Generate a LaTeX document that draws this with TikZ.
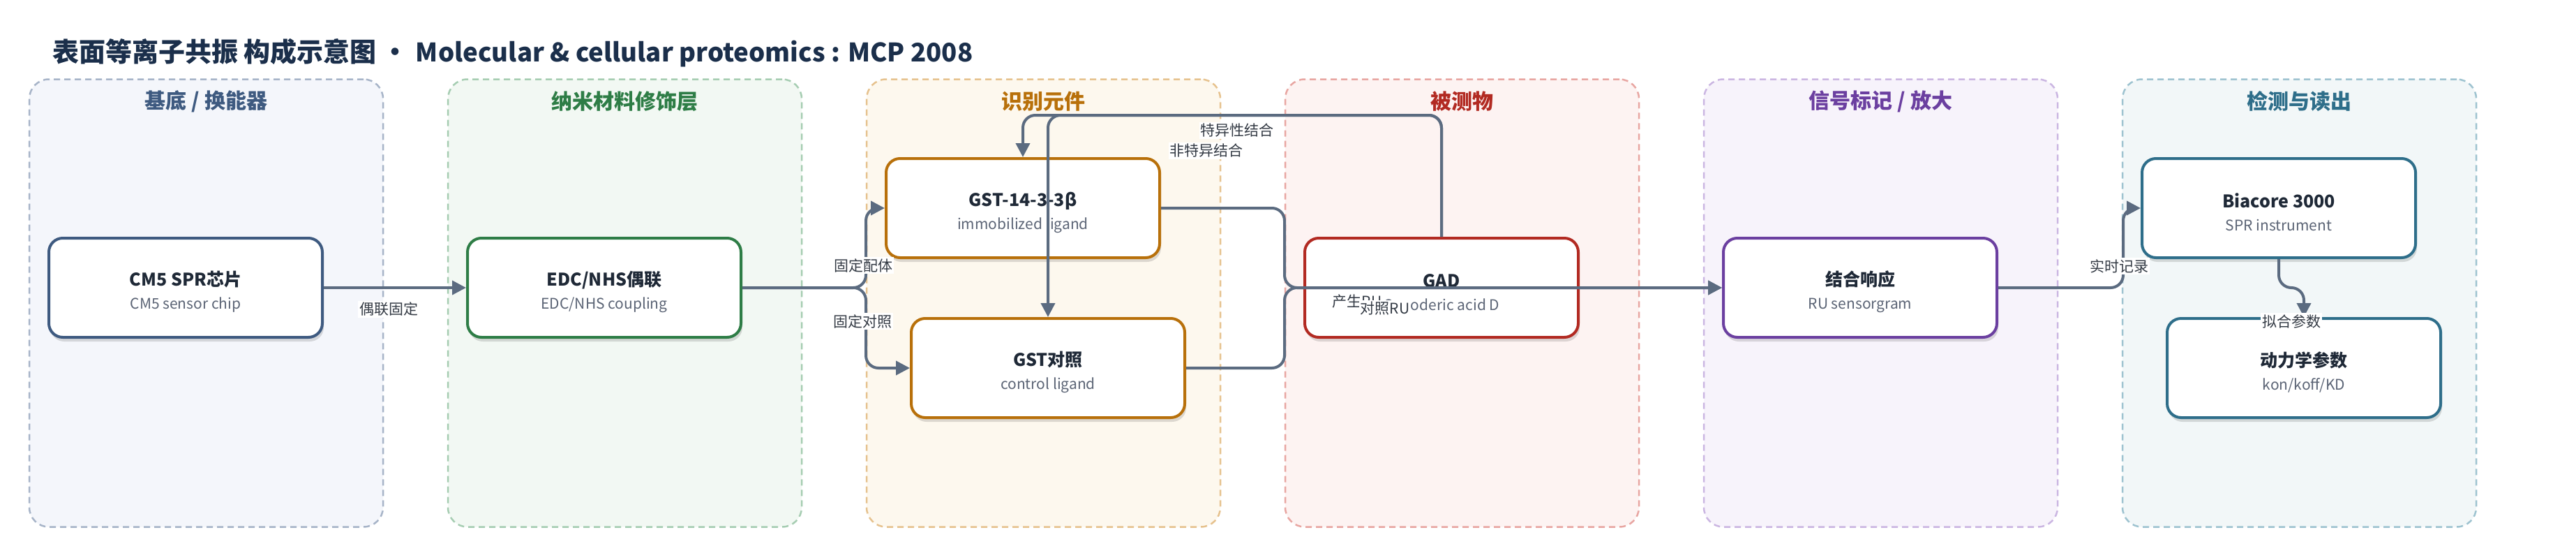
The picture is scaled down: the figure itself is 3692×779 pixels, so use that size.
\documentclass[tikz,border=0pt]{standalone}
\usepackage{fontspec}
\setmainfont{Noto Sans CJK SC}
\usetikzlibrary{arrows.meta,shadows}
\definecolor{edgec}{HTML}{5B6B80}
\definecolor{titlec}{HTML}{1B2F4B}
\definecolor{ntc}{HTML}{1F2937}
\definecolor{subc}{HTML}{5B6475}
\definecolor{labc}{HTML}{333A44}
\definecolor{c1}{HTML}{3E5A80}\definecolor{f1}{HTML}{F4F6FB}\definecolor{d1}{HTML}{A7B4C8}
\definecolor{c2}{HTML}{2E7D46}\definecolor{f2}{HTML}{F2F8F3}\definecolor{d2}{HTML}{A6CDB2}
\definecolor{c3}{HTML}{B8700A}\definecolor{f3}{HTML}{FDF8EE}\definecolor{d3}{HTML}{E6C28E}
\definecolor{c4}{HTML}{B22A22}\definecolor{f4}{HTML}{FDF3F2}\definecolor{d4}{HTML}{E8A6A2}
\definecolor{c5}{HTML}{6B3FA0}\definecolor{f5}{HTML}{F7F3FB}\definecolor{d5}{HTML}{CBB6E2}
\definecolor{c6}{HTML}{2E6E8A}\definecolor{f6}{HTML}{F2F7F8}\definecolor{d6}{HTML}{9EC3D0}
\newcommand\ntext[2]{{\fontsize{25}{30}\selectfont\bfseries\color{ntc}\rule{0pt}{33pt}#1}\\[8pt]{\color{subc}#2}}
\begin{document}
\begin{tikzpicture}[x=1pt,y=-1pt,
  panel/.style 2 args={draw=#1,fill=#2,line width=2.5pt,dash pattern=on 9pt off 6pt,rounded corners=28pt,minimum width=507pt,minimum height=641pt,inner sep=0pt},
  ptitle/.style={font=\fontsize{30}{36}\selectfont\bfseries,text=#1,inner sep=0pt},
  box/.style={draw=#1,fill=white,line width=4pt,rounded corners=20pt,minimum width=392pt,minimum height=142pt,align=center,inner sep=0pt,font=\fontsize{21}{25}\selectfont,drop shadow={shadow xshift=2pt,shadow yshift=-6pt,opacity=0.13,fill=black}},
  conn/.style={draw=edgec,line width=4pt,rounded corners=18pt,line join=round,-{Triangle[length=20pt,width=20pt]}},
  elabel/.style={fill=white,inner sep=2pt,font=\fontsize{21}{25}\selectfont,text=labc}
]
\useasboundingbox (0,0) rectangle (3692,779);
\fill[white] (0,0) rectangle (3692,779);

\node[anchor=west,inner sep=0pt,font=\fontsize{38}{44}\selectfont\bfseries,text=titlec] (title) at (75,76)
  {表面等离子共振 构成示意图\hspace{8pt}•\hspace{10pt}{\fontsize{36.6}{44}\selectfont Molecular \& cellular proteomics : MCP 2008}};

% panels
\node[panel={d1}{f1}] (p1) at (295.5,434) {};
\node[panel={d2}{f2}] (p2) at (895.5,434) {};
\node[panel={d3}{f3}] (p3) at (1495.5,434) {};
\node[panel={d4}{f4}] (p4) at (2095.5,434) {};
\node[panel={d5}{f5}] (p5) at (2695.5,434) {};
\node[panel={d6}{f6}] (p6) at (3295.5,434) {};
\node[ptitle=c1] (t1) at (295.5,145) {基底 / 换能器};
\node[ptitle=c2] (t2) at (895.5,145) {纳米材料修饰层};
\node[ptitle=c3] (t3) at (1495.5,145) {识别元件};
\node[ptitle=c4] (t4) at (2095.5,145) {被测物};
\node[ptitle=c5] (t5) at (2695.5,145) {信号标记 / 放大};
\node[ptitle=c6] (t6) at (3295.5,145) {检测与读出};

% nodes
\node[box=c1] (cm5) at (266,412) {\ntext{CM5 SPR芯片}{CM5 sensor chip}};
\node[box=c2] (edc) at (866,412) {\ntext{EDC/NHS偶联}{EDC/NHS coupling}};
\node[box=c3] (gst1) at (1466,298) {\ntext{GST-14-3-3β}{immobilized ligand}};
\node[box=c3] (gst2) at (1502,527) {\ntext{GST对照}{control ligand}};
\node[box=c4] (gad) at (2066,412) {\ntext{GAD}{Ganoderic acid D}};
\node[box=c5] (bind) at (2666,412) {\ntext{结合响应}{RU sensorgram}};
\node[box=c6] (bio) at (3266,298) {\ntext{Biacore 3000}{SPR instrument}};
\node[box=c6] (kin) at (3302,527) {\ntext{动力学参数}{kon/koff/KD}};

% routing helpers
\coordinate (v1) at (1241,0);
\coordinate (v2) at (1841,0);
\coordinate (v3) at (3043,0);
\coordinate (top) at (0,165);
\coordinate (mid) at (0,412);

% connectors
\draw[conn] (cm5.east) -- (edc.west);
\draw[conn] (edc.east) -| (v1 |- gst1.west) -- (gst1.west);
\draw[conn] (edc.east) -| (v1 |- gst2.west) -- (gst2.west);
\draw[conn] (gst1.east) -| (v2 |- bind.west) -- (bind.west);
\draw[conn] (gst2.east) -| (v2 |- bind.west) -- (bind.west);
\draw[conn] (gad.north) |- (top -| gst1.north) -- (gst1.north);
\draw[conn] (gad.north) |- (top -| gst2.north) -- (gst2.north);
\draw[conn] (bind.east) -| (v3 |- bio.west) -- (bio.west);
\draw[conn] (bio.south) |- (mid -| kin.north) -- (kin.north);

% labels
\node[elabel] (l1) at (557,443) {偶联固定};
\node[elabel] (l2) at (1237,380) {固定配体};
\node[elabel] (l3) at (1236,460) {固定对照};
\node[elabel] (l4) at (1773,187) {特异性结合};
\node[elabel] (l5) at (1729,216) {非特异结合};
\node[elabel] (l6) at (1945,432) {产生RU};
\node[elabel] (l7) at (1985,442) {对照RU};
\node[elabel] (l8) at (3037,381) {实时记录};
\node[elabel] (l9) at (3284,460) {拟合参数};
\end{tikzpicture}
\end{document}
